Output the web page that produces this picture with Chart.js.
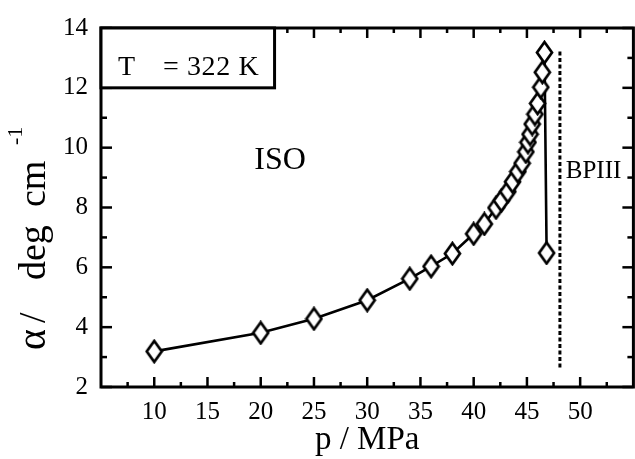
<!DOCTYPE html>
<html>
<head>
<meta charset="utf-8">
<script src="https://cdn.jsdelivr.net/npm/chart.js@4/dist/chart.umd.min.js"></script>
<style>
html,body{margin:0;padding:0;overflow:hidden;background:#fff;}
canvas{display:block;}
</style>
</head>
<body>
<canvas id="c" width="645" height="459"></canvas>
<script>
// ---- data ----
const pressure = [10, 20, 25, 30, 34, 36, 38, 40, 41, 42.1, 42.6, 43.2, 43.65, 44.15, 44.55, 44.9, 45.1, 45.3, 45.5, 45.75, 46.0, 46.3, 46.45, 46.65, 46.85];
const alpha    = [3.19, 3.81, 4.28, 4.9, 5.62, 6.03, 6.46, 7.12, 7.45, 7.99, 8.23, 8.53, 8.86, 9.2, 9.48, 9.86, 10.18, 10.45, 10.79, 11.12, 11.48, 12.02, 12.52, 13.18, 6.48];
const boundaryP     = [48.1, 48.1];
const boundaryAlpha = [2.65, 13.3];
const xTickLabels = [10, 15, 20, 25, 30, 35, 40, 45, 50];
const xMinorTicks = [7.5, 12.5, 17.5, 22.5, 27.5, 32.5, 37.5, 42.5, 47.5, 52.5];
const yTickLabels = [2, 4, 6, 8, 10, 12, 14];
const yMinorTicks = [3, 5, 7, 9, 11, 13];

const SERIF = '"Liberation Serif", "Times New Roman", serif';

// hollow diamond marker
function makeDiamond(){
  const c = document.createElement('canvas');
  c.width = 19; c.height = 25;
  const g = c.getContext('2d');
  g.beginPath();
  g.moveTo(9.5, 2); g.lineTo(17, 12.5); g.lineTo(9.5, 23); g.lineTo(2, 12.5); g.closePath();
  g.fillStyle = '#fff'; g.fill();
  g.lineWidth = 2.7; g.strokeStyle = '#000'; g.lineJoin = 'miter'; g.stroke();
  return c;
}
const diamond = makeDiamond();

function spacedText(ctx, text, x, y, gap){
  for (const ch of text){
    ctx.fillText(ch, x, y);
    x += ctx.measureText(ch).width + gap;
  }
  return x - gap;
}

const framePlugin = {
  id: 'frame',
  beforeDatasetsDraw(chart){
    const {ctx, chartArea:a, scales:{x, y}} = chart;
    ctx.save();
    ctx.strokeStyle = '#000';
    ctx.lineWidth = 2.5;
    const tickX = (vals, len) => vals.forEach(v => {
      const px = x.getPixelForValue(v);
      ctx.beginPath(); ctx.moveTo(px, a.bottom); ctx.lineTo(px, a.bottom - len); ctx.stroke();
      ctx.beginPath(); ctx.moveTo(px, a.top); ctx.lineTo(px, a.top + len); ctx.stroke();
    });
    const tickY = (vals, len) => vals.forEach(v => {
      const py = y.getPixelForValue(v);
      ctx.beginPath(); ctx.moveTo(a.left, py); ctx.lineTo(a.left + len, py); ctx.stroke();
      ctx.beginPath(); ctx.moveTo(a.right, py); ctx.lineTo(a.right - len, py); ctx.stroke();
    });
    tickX(xTickLabels, 10); tickX(xMinorTicks, 5);
    tickY(yTickLabels, 11); tickY(yMinorTicks, 6);
    ctx.lineWidth = 3;
    ctx.strokeRect(a.left, a.top, a.right - a.left, a.bottom - a.top);
    ctx.restore();
  },
  afterDraw(chart){
    const {ctx, chartArea:a, scales:{x, y}} = chart;
    ctx.save();
    // temperature box
    const bx1 = a.left, by1 = a.top, bx2 = x.getPixelForValue(21.3), by2 = y.getPixelForValue(12);
    ctx.fillStyle = '#fff';
    ctx.fillRect(bx1, by1, bx2 - bx1, by2 - by1);
    ctx.lineWidth = 3; ctx.strokeStyle = '#000';
    ctx.strokeRect(bx1, by1, bx2 - bx1, by2 - by1);
    ctx.fillStyle = '#000';
    ctx.font = '28px ' + SERIF;
    ctx.textBaseline = 'alphabetic'; ctx.textAlign = 'left';
    ctx.fillText('T', bx1 + 17, by1 + 47);
    spacedText(ctx, '= 322 K', bx1 + 62, by1 + 47, 0.6);
    // region labels
    ctx.font = '32px ' + SERIF;
    ctx.fillText('ISO', x.getPixelForValue(19.4), y.getPixelForValue(9.3));
    ctx.font = '25px ' + SERIF;
    ctx.fillText('BPIII', x.getPixelForValue(48.65), y.getPixelForValue(8.98));
    // y axis title with superscript (rotated)
    ctx.translate(45, 350);
    ctx.rotate(-Math.PI / 2);
    ctx.font = '40px ' + SERIF;
    ctx.fillText('\u03B1', 0, 0);
    ctx.font = '38px ' + SERIF;
    ctx.fillText('/', 27, 0);
    ctx.fillText('deg', 70, 0);
    ctx.fillText('cm', 143, 0);
    ctx.font = '22px ' + SERIF;
    ctx.fillText('-1', 205, -23);
    ctx.restore();
  }
};

new Chart(document.getElementById('c'), {
  type: 'scatter',
  data: {
    datasets: [
      {
        data: boundaryP.map((p, i) => ({x: p, y: boundaryAlpha[i]})),
        showLine: true, borderColor: '#000', borderWidth: 3, borderDash: [4, 2.5],
        pointRadius: 0, order: 2
      },
      {
        data: pressure.map((p, i) => ({x: p, y: alpha[i]})),
        showLine: true, borderColor: '#000', borderWidth: 2.6, tension: 0,
        pointStyle: diamond, pointRadius: 9, order: 1
      }
    ]
  },
  options: {
    responsive: false, animation: false, devicePixelRatio: 1,
    layout: {padding: {top: 20, right: 9, left: 0, bottom: 0}},
    plugins: {legend: {display: false}, tooltip: {enabled: false}},
    scales: {
      x: {
        type: 'linear', min: 5, max: 55,
        afterBuildTicks: s => { s.ticks = xTickLabels.map(v => ({value: v})); },
        afterFit: s => { s.height = 72; },
        grid: {display: false, drawTicks: false}, border: {display: false},
        ticks: {font: {family: SERIF, size: 25}, color: '#000', padding: 10, maxRotation: 0, autoSkip: false},
        title: {display: true, text: 'p / MPa', font: {family: SERIF, size: 33}, color: '#000', padding: {top: 0, bottom: -1}}
      },
      y: {
        type: 'linear', min: 2, max: 14,
        afterBuildTicks: s => { s.ticks = yTickLabels.map(v => ({value: v})); },
        afterFit: s => { s.width = 101; },
        grid: {display: false, drawTicks: false}, border: {display: false},
        ticks: {font: {family: SERIF, size: 25}, color: '#000', padding: 13, autoSkip: false}
      }
    }
  },
  plugins: [framePlugin]
});
</script>
</body>
</html>
